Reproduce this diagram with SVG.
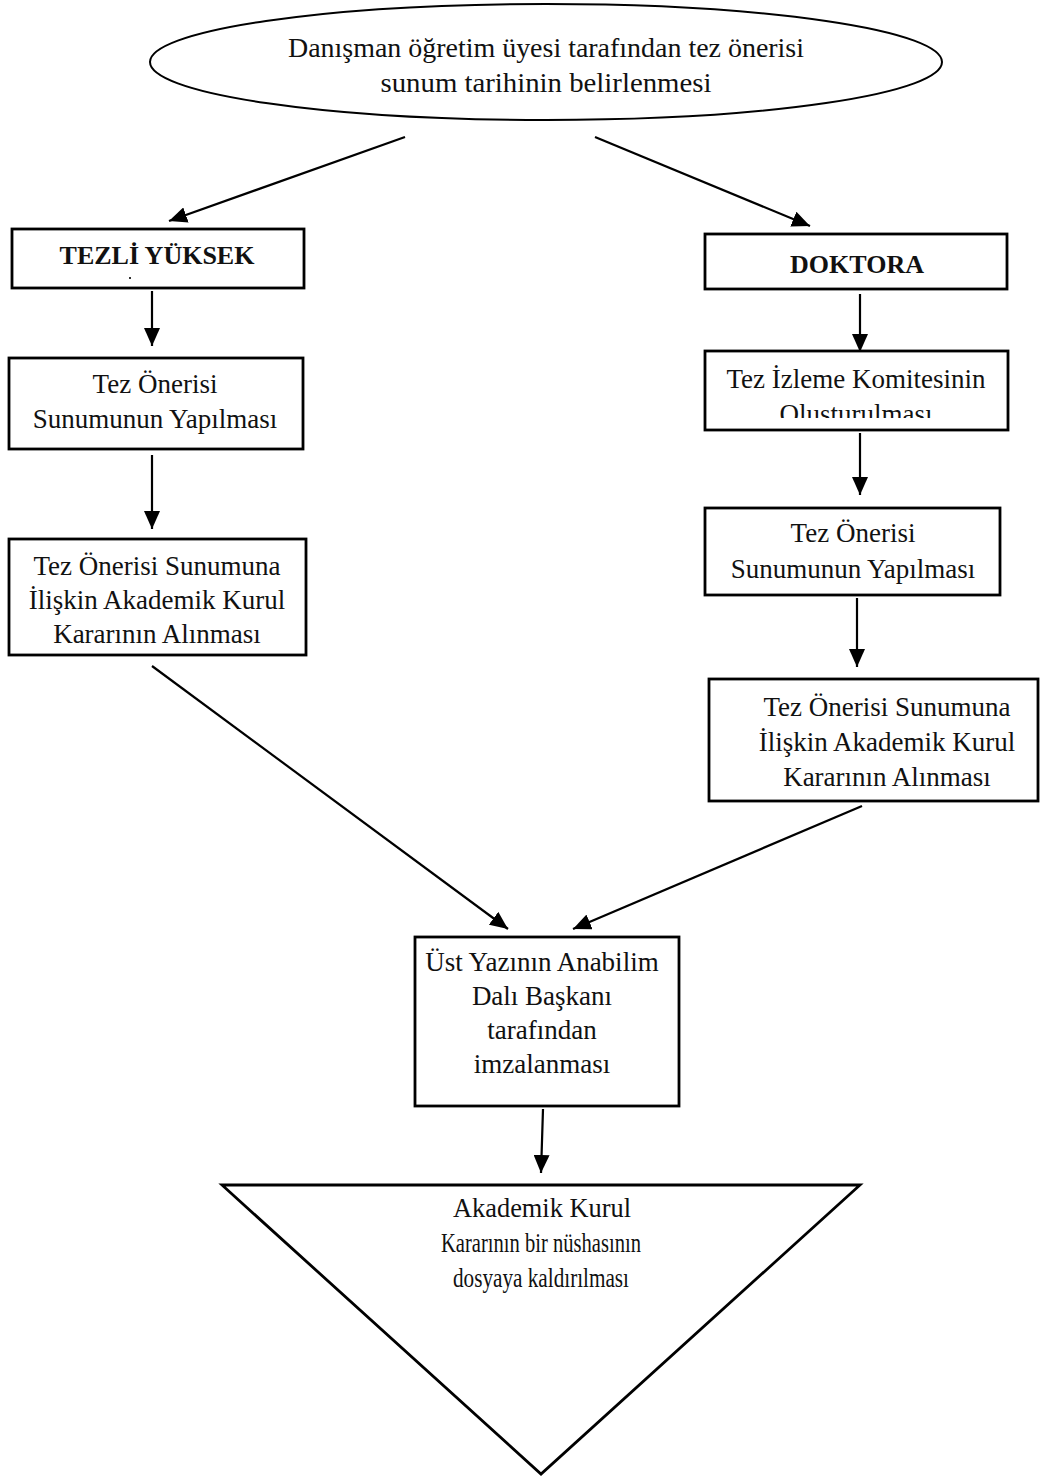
<svg xmlns="http://www.w3.org/2000/svg" width="1060" height="1484" viewBox="0 0 1060 1484">
<style>
.bg{fill:#fff}
.node{fill:#fff;stroke:#000;stroke-width:2.8}
.oval{fill:#fff;stroke:#000;stroke-width:2}
.t{font-family:"Liberation Serif","Times New Roman",serif;font-size:27px;fill:#111;text-anchor:middle}
.b{font-weight:bold;font-size:26px}
.c{stroke:#000;stroke-width:2.2;fill:none;marker-end:url(#ah)}
</style>
<defs>
<marker id="ah" viewBox="0 0 18 16" refX="18" refY="8" markerWidth="18" markerHeight="16" markerUnits="userSpaceOnUse" orient="auto">
<path d="M0,0 L18,8 L0,16 z" fill="#000"/>
</marker>
<clipPath id="clipIz"><rect x="705" y="351" width="303" height="67"/></clipPath>
</defs>
<rect class="bg" x="0" y="0" width="1060" height="1484"/>

<g id="connectors">
<line class="c" x1="405" y1="137" x2="169" y2="221"/>
<line class="c" x1="595" y1="137" x2="810" y2="226"/>
<line class="c" x1="152" y1="291" x2="152" y2="346"/>
<line class="c" x1="152" y1="455" x2="152" y2="529"/>
<line class="c" x1="152" y1="666" x2="508" y2="929"/>
<line class="c" x1="860" y1="294" x2="860" y2="352"/>
<line class="c" x1="860" y1="433" x2="860" y2="495"/>
<line class="c" x1="857" y1="598" x2="857" y2="667"/>
<line class="c" x1="862" y1="806" x2="573" y2="929"/>
<line class="c" x1="543" y1="1109" x2="541" y2="1173"/>
</g>

<g id="start">
<ellipse class="oval" cx="546" cy="62" rx="396" ry="58"/>
<text class="t" x="546" y="57" font-size="30" textLength="516" lengthAdjust="spacingAndGlyphs">Danışman öğretim üyesi tarafından tez önerisi</text>
<text class="t" x="546" y="92" font-size="30" textLength="331" lengthAdjust="spacingAndGlyphs">sunum tarihinin belirlenmesi</text>
</g>

<g id="tezli">
<rect class="node" x="12" y="229" width="292" height="59"/>
<text class="t b" x="157" y="264">TEZLİ YÜKSEK</text>
<rect x="129" y="277" width="2" height="2" fill="#333"/>
</g>

<g id="doktora">
<rect class="node" x="705" y="234" width="302" height="55"/>
<text class="t b" x="857" y="273">DOKTORA</text>
</g>

<g id="l-sunum">
<rect class="node" x="9" y="358" width="294" height="91"/>
<text class="t" x="155" y="393">Tez Önerisi</text>
<text class="t" x="155" y="428">Sunumunun Yapılması</text>
</g>

<g id="l-karar">
<rect class="node" x="9" y="539" width="297" height="116"/>
<text class="t" x="157" y="575">Tez Önerisi Sunumuna</text>
<text class="t" x="157" y="609">İlişkin Akademik Kurul</text>
<text class="t" x="157" y="643">Kararının Alınması</text>
</g>

<g id="r-komite">
<rect class="node" x="705" y="351" width="303" height="79"/>
<text class="t" x="856" y="388">Tez İzleme Komitesinin</text>
<text class="t" x="856" y="423" clip-path="url(#clipIz)">Oluşturulması</text>
</g>

<g id="r-sunum">
<rect class="node" x="705" y="508" width="295" height="87"/>
<text class="t" x="853" y="542">Tez Önerisi</text>
<text class="t" x="853" y="578">Sunumunun Yapılması</text>
</g>

<g id="r-karar">
<rect class="node" x="709" y="679" width="329" height="122"/>
<text class="t" x="887" y="716">Tez Önerisi Sunumuna</text>
<text class="t" x="887" y="751">İlişkin Akademik Kurul</text>
<text class="t" x="887" y="786">Kararının Alınması</text>
</g>

<g id="ust">
<rect class="node" x="415" y="937" width="264" height="169"/>
<text class="t" x="542" y="971">Üst Yazının Anabilim</text>
<text class="t" x="542" y="1005">Dalı Başkanı</text>
<text class="t" x="542" y="1039">tarafından</text>
<text class="t" x="542" y="1073">imzalanması</text>
</g>

<g id="end">
<polygon class="node" points="222,1185 860,1185 541,1474" stroke-width="2.2"/>
<text class="t" x="542" y="1217" font-size="28" textLength="178" lengthAdjust="spacingAndGlyphs">Akademik Kurul</text>
<text class="t" x="541" y="1252" font-size="28" textLength="200" lengthAdjust="spacingAndGlyphs">Kararının bir nüshasının</text>
<text class="t" x="541" y="1287" font-size="28" textLength="176" lengthAdjust="spacingAndGlyphs">dosyaya kaldırılması</text>
</g>
</svg>
